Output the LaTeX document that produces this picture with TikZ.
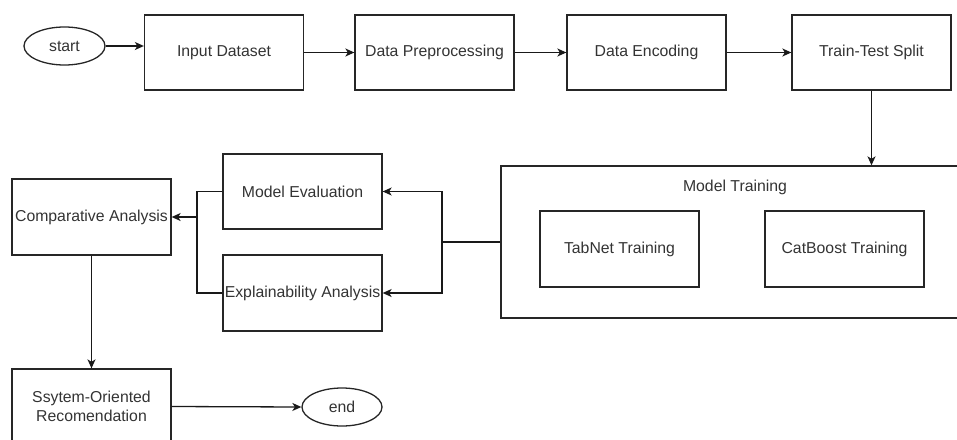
\documentclass[tikz,border=0pt]{standalone}
\usepackage{fontspec}
\setmainfont{Liberation Sans}
\usetikzlibrary{arrows.meta,shapes.geometric}
\begin{document}
\begin{tikzpicture}[x=1pt,y=-1pt,
  every node/.style={font=\fontsize{15.8}{19}\selectfont, text=black!80},
  box/.style={draw=black!85, line width=1.3pt, rectangle, minimum width=159pt, minimum height=75pt, inner sep=0pt, align=center},
  oval/.style={draw=black!85, line width=1.3pt, ellipse, minimum width=81pt, minimum height=38pt, inner sep=0pt},
  conn/.style={draw=black!90, line width=1.3pt},
  arr/.style={conn, -{Stealth[length=9pt,width=8pt,inset=2.5pt]}}]
\useasboundingbox (0,0) rectangle (957,439);
\clip (0,0) rectangle (957,439);
\node[oval] (start) at (64.5,46) {start};
\node[box] (inp) at (224,52.5) {Input Dataset};
\node[box] (prep) at (434.5,52.5) {Data Preprocessing};
\node[box] (enc) at (646.5,52.5) {Data Encoding};
\node[box] (tts) at (871.5,52.5) {Train-Test Split};
\node[box, minimum width=468pt, minimum height=152pt] (mt) at (735,242) {};
\node (mtl) at (735,187) {Model Training};
\node[box, minimum height=76pt] (tab) at (619.5,249) {TabNet Training};
\node[box, minimum height=76pt] (cat) at (844.5,249) {CatBoost Training};
\node[box] (me) at (302.5,191.5) {Model Evaluation};
\node[box, minimum height=76pt] (ex) at (302.5,293) {Explainability Analysis};
\node[box, minimum height=76pt] (ca) at (91.5,217) {Comparative Analysis};
\node[box] (sys) at (91.5,406.5) {Ssytem-Oriented\\Recomendation};
\node[oval, minimum width=80pt] (end) at (342,407) {end};
\coordinate (split) at (442,242);
\coordinate (join) at (197,217);
\draw[arr] (start.east) -- (start.east -| inp.west);
\draw[arr] (inp) -- (prep);
\draw[arr] (prep) -- (enc);
\draw[arr] (enc) -- (tts);
\draw[arr] (tts.south) -- (tts.south |- mt.north);
\draw[conn] (mt.west) -- (split);
\draw[arr] (split) |- (me.east);
\draw[arr] (split) |- (ex.east);
\draw[conn] (me.west) -| (join) |- (ex.west);
\draw[arr] (join) -- (ca.east);
\draw[arr] (ca.south) -- (sys.north);
\draw[arr] (sys.east -| sys.east) -- (end.west);
\end{tikzpicture}
\end{document}
